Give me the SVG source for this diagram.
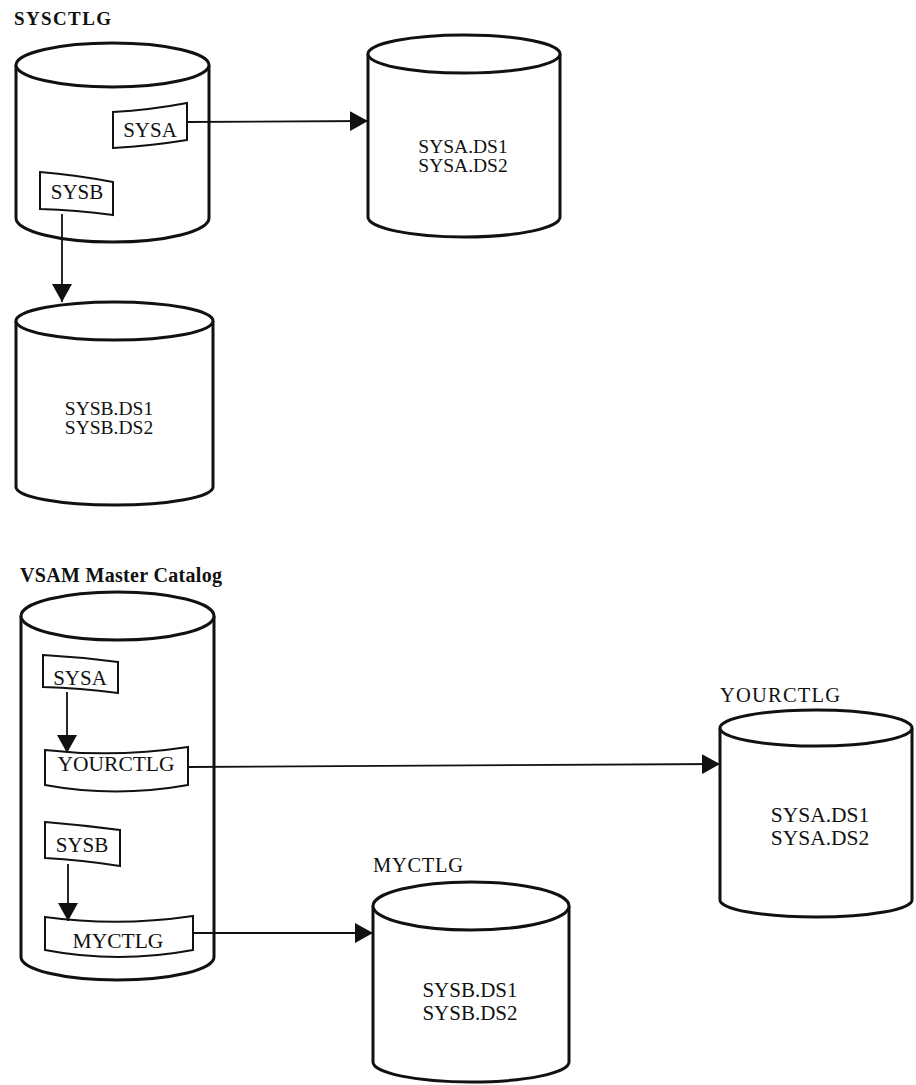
<svg xmlns="http://www.w3.org/2000/svg" width="916" height="1085" viewBox="0 0 916 1085">
<style>
.cyl{fill:#fff;stroke:#111;stroke-width:3;stroke-linejoin:round}
.tag{fill:#fff;stroke:#111;stroke-width:2;stroke-linejoin:miter}
.con{fill:none;stroke:#111;stroke-width:1.8}
.t{font-family:"Liberation Serif","Times New Roman",serif;fill:#111;text-anchor:middle}
.lbl{font-family:"Liberation Serif","Times New Roman",serif;fill:#111}
.b{font-weight:bold}
</style>
<defs>
<marker id="ah" markerUnits="userSpaceOnUse" markerWidth="20" markerHeight="20" refX="18" refY="10" orient="auto">
<path d="M0,0 L18,10 L0,20 Z" fill="#111"/>
</marker>
</defs>
<rect width="916" height="1085" fill="#fff"/>

<g id="sysctlg">
<text class="lbl b" x="14" y="25" font-size="19" textLength="97">SYSCTLG</text>
<path class="cyl" d="M16,65 L16,218 A96.5,24 0 0 0 209,218 L209,65"/>
<ellipse class="cyl" cx="112.5" cy="65" rx="96.5" ry="22"/>
</g>
<g id="sysctlg-sysa">
<path class="tag" d="M113,112 Q150,110 187,103 L187,140 Q150,146 113,148 Z"/>
<text class="t" x="150" y="137" font-size="21">SYSA</text>
</g>
<g id="sysctlg-sysb">
<path class="tag" d="M40,172 Q76,175 113,182 L113,215 Q76,210 40,209 Z"/>
<text class="t" x="77" y="199" font-size="21">SYSB</text>
</g>

<g id="sysa-ds">
<path class="cyl" d="M368,54 L368,217 A96,20 0 0 0 560,217 L560,54"/>
<ellipse class="cyl" cx="464" cy="54" rx="96" ry="19"/>
<text class="t" x="463" y="153" font-size="19.5">SYSA.DS1</text>
<text class="t" x="463" y="172" font-size="19.5">SYSA.DS2</text>
</g>

<g id="sysb-ds">
<path class="cyl" d="M16,321 L16,487 A98.5,18 0 0 0 213,487 L213,321"/>
<ellipse class="cyl" cx="114.5" cy="321" rx="98.5" ry="19"/>
<text class="t" x="109" y="415" font-size="19.5">SYSB.DS1</text>
<text class="t" x="109" y="434" font-size="19.5">SYSB.DS2</text>
</g>

<g id="vsam">
<text class="lbl b" x="20" y="582" font-size="20" textLength="202">VSAM Master Catalog</text>
<path class="cyl" d="M21,616 L21,957 A96.5,23 0 0 0 214,957 L214,616"/>
<ellipse class="cyl" cx="117.5" cy="616" rx="96.5" ry="24"/>
</g>
<g id="vsam-sysa">
<path class="tag" d="M43,655 Q80,657 118,662 L118,693 Q80,688 43,687 Z"/>
<text class="t" x="80" y="685" font-size="21">SYSA</text>
</g>
<g id="vsam-yourctlg">
<path class="tag" d="M45,750 Q115,758 188,747 L188,785 Q115,798 45,785 Z"/>
<text class="t" x="116" y="771" font-size="21.5">YOURCTLG</text>
</g>
<g id="vsam-sysb">
<path class="tag" d="M45,822 Q82,825 120,830 L120,866 Q82,860 45,858 Z"/>
<text class="t" x="82" y="852" font-size="21">SYSB</text>
</g>
<g id="vsam-myctlg">
<path class="tag" d="M45,917 Q118,927 193,916 L193,950 Q118,964 45,950 Z"/>
<text class="t" x="118" y="948" font-size="21.5">MYCTLG</text>
</g>

<g id="yourctlg">
<text class="lbl" x="720" y="702" font-size="20.5" textLength="120">YOURCTLG</text>
<path class="cyl" d="M720,728 L720,900 A96,17 0 0 0 912,900 L912,728"/>
<ellipse class="cyl" cx="816" cy="728" rx="96" ry="18"/>
<text class="t" x="820" y="822" font-size="21.5">SYSA.DS1</text>
<text class="t" x="820" y="845" font-size="21.5">SYSA.DS2</text>
</g>

<g id="myctlg">
<text class="lbl" x="373" y="872" font-size="20.5" textLength="90">MYCTLG</text>
<path class="cyl" d="M373,906 L373,1062 A98,20 0 0 0 569,1062 L569,906"/>
<ellipse class="cyl" cx="471" cy="906" rx="98" ry="24"/>
<text class="t" x="470" y="997" font-size="21">SYSB.DS1</text>
<text class="t" x="470" y="1020" font-size="21">SYSB.DS2</text>
</g>

<g id="connectors">
<line class="con" x1="187" y1="122" x2="368" y2="121" marker-end="url(#ah)"/>
<line class="con" x1="62" y1="214" x2="62" y2="302" marker-end="url(#ah)"/>
<line class="con" x1="67" y1="692" x2="67" y2="753" marker-end="url(#ah)"/>
<line class="con" x1="188" y1="767" x2="720" y2="764" marker-end="url(#ah)"/>
<line class="con" x1="68" y1="864" x2="68" y2="921" marker-end="url(#ah)"/>
<line class="con" x1="193" y1="933" x2="373" y2="933" marker-end="url(#ah)"/>
</g>
</svg>
